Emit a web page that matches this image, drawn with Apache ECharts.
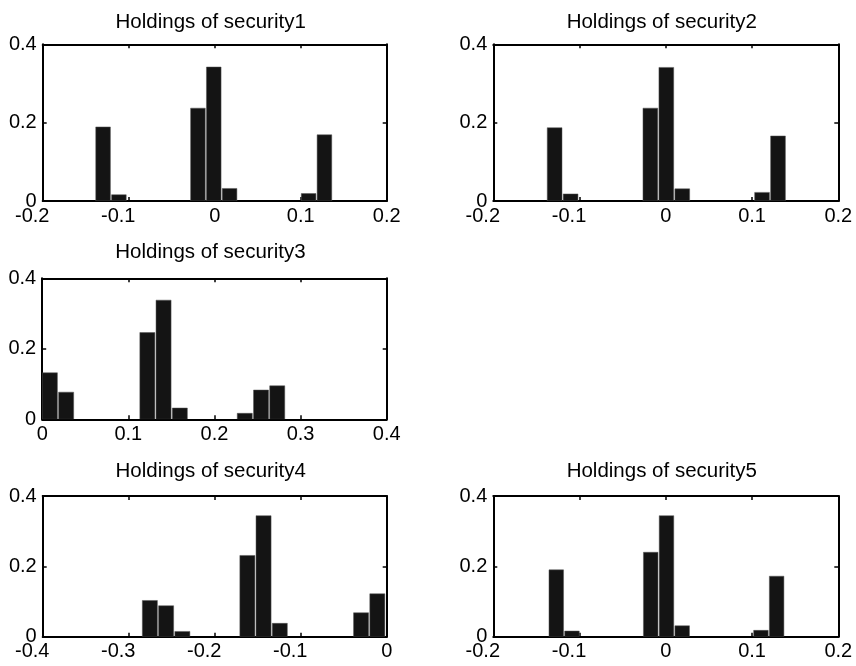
<!DOCTYPE html>
<html>
<head>
<meta charset="utf-8">
<script src="https://cdn.jsdelivr.net/npm/echarts@6/dist/echarts.min.js"></script>
<style>
html,body{margin:0;padding:0;background:#fff;}
#chart{width:856px;height:666px;}
</style>
</head>
<body>
<div id="chart"></div>
<script>
// ---- data ----
const titles = ['Holdings of security1','Holdings of security2','Holdings of security3','Holdings of security4','Holdings of security5'];

const centers1 = [-0.1298,-0.1114,-0.0930,-0.0746,-0.0563,-0.0379,-0.0195,-0.0011,0.0173,0.0357,0.0541,0.0724,0.0908,0.1092,0.1276];
const heights1 = [0.189,0.016,0,0,0,0,0.237,0.342,0.032,0,0,0,0,0.019,0.169];

const centers2 = [-0.1289,-0.1104,-0.0919,-0.0734,-0.0549,-0.0364,-0.0179,0.0006,0.0191,0.0376,0.0561,0.0746,0.0931,0.1116,0.1301];
const heights2 = [0.187,0.018,0,0,0,0,0.237,0.341,0.031,0,0,0,0,0.022,0.166];

const centers3 = [0.0089,0.0278,0.0466,0.0655,0.0843,0.1032,0.1221,0.1409,0.1598,0.1786,0.1975,0.2164,0.2352,0.2541,0.2729];
const heights3 = [0.132,0.077,0,0,0,0,0.246,0.338,0.032,0,0,0,0.017,0.083,0.095];

const centers4 = [-0.2754,-0.2565,-0.2376,-0.2187,-0.1998,-0.1809,-0.1620,-0.1432,-0.1243,-0.1054,-0.0865,-0.0676,-0.0487,-0.0298,-0.0109];
const heights4 = [0.103,0.088,0.015,0,0,0,0.231,0.344,0.038,0,0,0,0,0.068,0.122];

const centers5 = [-0.1270,-0.1088,-0.0905,-0.0723,-0.0540,-0.0358,-0.0175,0.0008,0.0190,0.0373,0.0555,0.0738,0.0920,0.1103,0.1285];
const heights5 = [0.190,0.016,0,0,0,0,0.240,0.344,0.031,0,0,0,0,0.018,0.172];

const binWidths = [0.0184,0.0185,0.01886,0.01889,0.01825];

const xMins = [-0.2,-0.2,0,-0.4,-0.2];
const xMaxs = [0.2,0.2,0.4,0,0.2];
const xTickStep = 0.1;
const yMin = 0, yMax = 0.4, yTickStep = 0.2;

// ---- layout ----
const grids = [
  {left:42.7, top:44.3, width:344, height:156.7},
  {left:493.3, top:44.3, width:345, height:156.7},
  {left:42.2, top:278.3, width:344.5, height:141},
  {left:42.7, top:496, width:344, height:140.7},
  {left:493.3, top:496, width:345, height:140.7}
];
const titleMidY = [21.7, 21.7, 251.7, 470.8, 470.8];

const FONT = "'Liberation Sans', Arial, Helvetica, sans-serif";
const TICK_FS = 20;
const TITLE_FS = 20.5;
const centersAll = [centers1,centers2,centers3,centers4,centers5];
const heightsAll = [heights1,heights2,heights3,heights4,heights5];

function fmt(v){
  const r = Math.round(v*10)/10;
  if (Math.abs(r) < 1e-9) return '0';
  return String(r);
}

const option = {
  animation:false,
  backgroundColor:'#fff',
  title:[], grid:[], xAxis:[], yAxis:[], series:[]
};

grids.forEach((g,i)=>{
  option.grid.push({left:g.left, top:g.top, width:g.width, height:g.height, containLabel:false, show:false});
  option.title.push({
    text: titles[i],
    left: g.left + g.width/2 - 4,
    top: titleMidY[i] - TITLE_FS/2,
    textAlign:'center',
    padding:0,
    textStyle:{fontFamily:FONT, fontSize:TITLE_FS, fontWeight:'normal', color:'#000'}
  });
  const axisLine = {show:true, onZero:false, lineStyle:{color:'#000', width:2}};
  const axisTick = {show:true, inside:true, length:4, lineStyle:{color:'#000', width:1.5}};
  // bottom x
  option.xAxis.push({
    type:'value', gridIndex:i, position:'bottom', min:xMins[i], max:xMaxs[i], interval:xTickStep,
    axisLine, axisTick, splitLine:{show:false},
    axisLabel:{
      show:true, margin:5, showMinLabel:true, showMaxLabel:true,
      fontFamily:FONT, fontSize:TICK_FS, color:'#000',
      formatter:function(v){ const s = fmt(v); return v < -1e-9 ? '{neg|'+s+'}' : '{pos|'+s+'}'; },
      rich:{
        neg:{fontFamily:FONT, fontSize:TICK_FS, color:'#000', padding:[0,21,0,0]},
        pos:{fontFamily:FONT, fontSize:TICK_FS, color:'#000'}
      }
    }
  });
  // top x (ticks only)
  option.xAxis.push({
    type:'value', gridIndex:i, position:'top', min:xMins[i], max:xMaxs[i], interval:xTickStep,
    axisLine, axisTick, splitLine:{show:false}, axisLabel:{show:false}
  });
  // left y
  option.yAxis.push({
    type:'value', gridIndex:i, position:'left', min:yMin, max:yMax, interval:yTickStep,
    axisLine, axisTick, splitLine:{show:false},
    axisLabel:{show:true, margin:6, showMinLabel:true, showMaxLabel:true,
      fontFamily:FONT, fontSize:TICK_FS, color:'#000', formatter:fmt}
  });
  // right y (ticks only)
  option.yAxis.push({
    type:'value', gridIndex:i, position:'right', min:yMin, max:yMax, interval:yTickStep,
    axisLine, axisTick, splitLine:{show:false}, axisLabel:{show:false}
  });

  const bw = binWidths[i];
  option.series.push({
    type:'custom',
    xAxisIndex: i*2, yAxisIndex: i*2,
    clip:true,
    data: centersAll[i].map((c,k)=>[c, heightsAll[i][k]]),
    renderItem:function(params, api){
      const c = api.value(0), v = api.value(1);
      if (!(v > 0)) return null;
      const p0 = api.coord([c - bw/2, v]);
      const p1 = api.coord([c + bw/2, 0]);
      return {
        type:'rect',
        shape:{x:p0[0]+0.6, y:p0[1], width:(p1[0]-p0[0])-1.2, height:p1[1]-p0[1]},
        style:{fill:'#141414', stroke:'#555', lineWidth:0.5}
      };
    }
  });
});

const chart = echarts.init(document.getElementById('chart'), null, {renderer:'canvas'});
chart.setOption(option);
</script>
</body>
</html>
